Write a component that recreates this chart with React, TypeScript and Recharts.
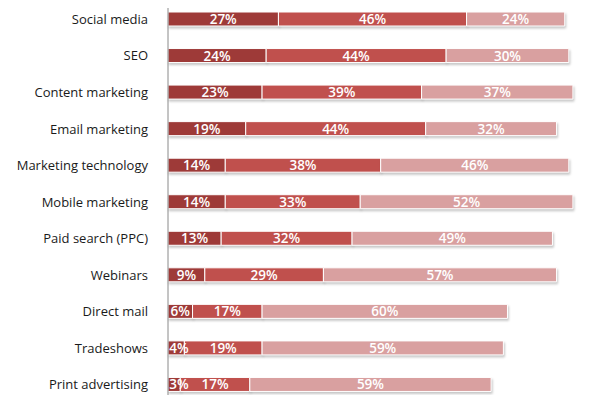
import { BarChart, Bar, XAxis, YAxis, LabelList } from "recharts";

const channels = [
  "Social media",
  "SEO",
  "Content marketing",
  "Email marketing",
  "Marketing technology",
  "Mobile marketing",
  "Paid search (PPC)",
  "Webinars",
  "Direct mail",
  "Tradeshows",
  "Print advertising",
];
const high = [27, 24, 23, 19, 14, 14, 13, 9, 6, 4, 3];
const medium = [46, 44, 39, 44, 38, 33, 32, 29, 17, 19, 17];
const low = [24, 30, 37, 32, 46, 52, 49, 57, 60, 59, 59];

const data = channels.map((name, i) => ({
  name,
  high: high[i],
  medium: medium[i],
  low: low[i],
}));

const labelStyle = { fill: "#fff", fontSize: 13.5, fontWeight: 600, fontFamily: "Open Sans" };

// centred value label; thin segments push the text right so it starts at the bar edge
const SegmentLabel = (props: any) => {
  const { x, y, width, height, value } = props;
  const cx = Math.max(x + width / 2, x + 11);
  return (
    <text x={cx} y={y + height / 2} textAnchor="middle" dominantBaseline="central" style={labelStyle}>
      {`${value}%`}
    </text>
  );
};

export default function App() {
  return (
    <div style={{ margin: -8, width: 594, background: "#fff" }}>
      <style>{`.bars .recharts-rectangle { filter: drop-shadow(1px 2px 1px rgba(0,0,0,0.22)); }`}</style>
      <div className="bars">
        <BarChart
          width={594}
          height={403}
          data={data}
          layout="vertical"
          barSize={14}
          margin={{ top: 1, right: 17, bottom: 0, left: 0 }}
        >
          <XAxis type="number" domain={[0, 100]} hide />
          <YAxis
            type="category"
            dataKey="name"
            width={168}
            axisLine={{ stroke: "#8a8a8a" }}
            tickLine={false}
            tickMargin={14}
            tick={{ fill: "#1a1a1a", fontSize: 13, fontFamily: "Open Sans" }}
          />
          <Bar dataKey="high" stackId="a" fill="#9e3a38" stroke="#fff" strokeWidth={1} isAnimationActive={false}>
            <LabelList dataKey="high" content={SegmentLabel} />
          </Bar>
          <Bar dataKey="medium" stackId="a" fill="#c0504d" stroke="#fff" strokeWidth={1} isAnimationActive={false}>
            <LabelList dataKey="medium" content={SegmentLabel} />
          </Bar>
          <Bar dataKey="low" stackId="a" fill="#d9a0a0" stroke="#fff" strokeWidth={1} isAnimationActive={false}>
            <LabelList dataKey="low" content={SegmentLabel} />
          </Bar>
        </BarChart>
      </div>
    </div>
  );
}
